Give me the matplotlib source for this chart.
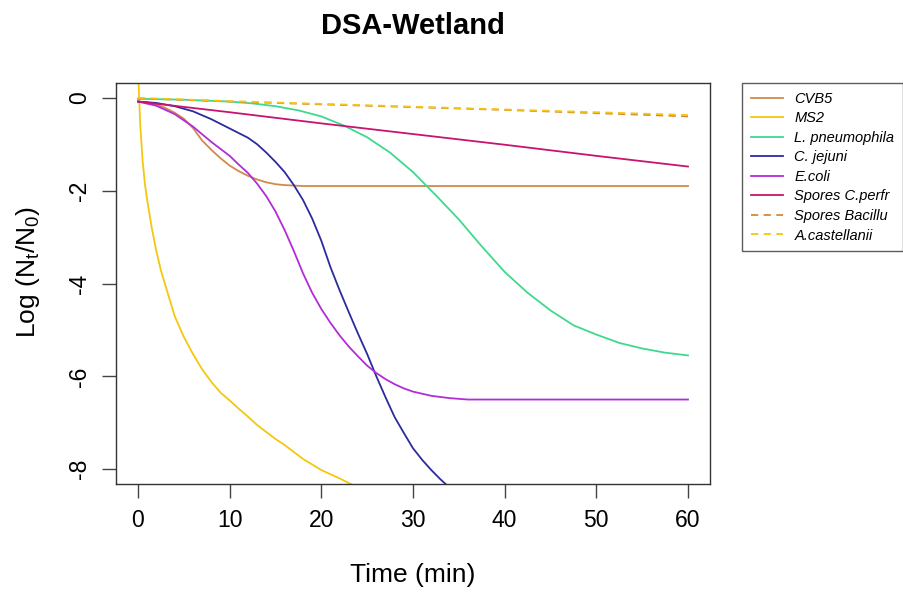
import numpy as np
import matplotlib.pyplot as plt

plt.rcParams['font.family'] = ['Liberation Sans', 'DejaVu Sans']
plt.rcParams['axes.unicode_minus'] = False
plt.rcParams['mathtext.fontset'] = 'custom'
plt.rcParams['mathtext.rm'] = 'Liberation Sans'

# time (min) and log reduction values
t_cvb5 = [0, 1, 2, 3, 4, 5, 6, 7, 8, 9, 10, 11, 12, 13, 14, 15, 16, 18, 20, 30, 40, 50, 60]
y_cvb5 = [-0.08, -0.1, -0.14, -0.22, -0.32, -0.45, -0.65, -0.92, -1.12, -1.3, -1.46, -1.58, -1.68,
          -1.76, -1.82, -1.86, -1.88, -1.9, -1.9, -1.9, -1.9, -1.9, -1.9]

t_ms2 = [0, 0.25, 0.5, 0.75, 1, 1.5, 2, 2.5, 3, 4, 5, 6, 7, 8, 9, 10, 11, 12, 13, 14, 15, 16, 18, 20, 22, 24]
y_ms2 = [0.6, -0.6, -1.35, -1.85, -2.2, -2.8, -3.3, -3.72, -4.05, -4.7, -5.15, -5.52, -5.85, -6.12,
         -6.35, -6.52, -6.7, -6.87, -7.05, -7.2, -7.35, -7.48, -7.78, -8.02, -8.2, -8.4]

t_legio = [0, 5, 10, 12.5, 15, 17.5, 20, 22.5, 25, 27.5, 30, 32.5, 35, 37.5, 40, 42.5, 45, 47.5, 50,
           52.5, 55, 57.5, 60]
y_legio = [-0.02, -0.04, -0.08, -0.12, -0.18, -0.27, -0.4, -0.6, -0.85, -1.18, -1.6, -2.1, -2.62, -3.2,
           -3.75, -4.2, -4.58, -4.9, -5.1, -5.28, -5.4, -5.49, -5.55]

t_camp = [0, 2, 4, 6, 8, 10, 11, 12, 13, 14, 15, 16, 17, 18, 19, 20, 21, 22, 23, 24, 25, 26, 27, 28,
          29, 30, 31, 32, 33, 34]
y_camp = [-0.08, -0.11, -0.18, -0.29, -0.46, -0.66, -0.76, -0.86, -1.0, -1.18, -1.38, -1.6, -1.88,
          -2.2, -2.6, -3.08, -3.65, -4.15, -4.62, -5.08, -5.52, -6.0, -6.45, -6.88, -7.22, -7.55, -7.8,
          -8.02, -8.22, -8.4]

t_ecoli = [0, 2, 4, 6, 8, 10, 11, 12, 13, 14, 15, 16, 17, 18, 19, 20, 21, 22, 23, 24, 25, 26, 27, 28,
           29, 30, 32, 34, 36, 40, 50, 60]
y_ecoli = [-0.08, -0.17, -0.35, -0.62, -0.95, -1.25, -1.44, -1.62, -1.85, -2.12, -2.45, -2.85, -3.3,
           -3.78, -4.2, -4.55, -4.85, -5.12, -5.36, -5.57, -5.77, -5.93, -6.06, -6.17, -6.26, -6.33,
           -6.42, -6.47, -6.5, -6.5, -6.5, -6.5]

t_lin = [0, 10, 20, 30, 40, 50, 60]
y_perfr = [-0.08, -0.31, -0.55, -0.78, -1.01, -1.25, -1.48]
y_bacil = [-0.01, -0.08, -0.14, -0.2, -0.26, -0.33, -0.4]
y_acanth = [0.0, -0.07, -0.13, -0.19, -0.25, -0.31, -0.37]

fig = plt.figure(figsize=(9.04, 6.07), dpi=100)
ax = fig.add_axes([116/904, 1-484/607, 594/904, 401/607])

lw = 1.3
ax.plot(t_cvb5, y_cvb5, color="#D08A4C", lw=lw, label="CVB5")
ax.plot(t_ms2, y_ms2, color="#F5C710", lw=lw, label="MS2")
ax.plot(t_legio, y_legio, color="#3FD98E", lw=lw, label="L. pneumophila")
ax.plot(t_camp, y_camp, color="#2B2B9E", lw=lw, label="C. jejuni")
ax.plot(t_ecoli, y_ecoli, color="#B22CD8", lw=lw, label="E.coli")
ax.plot(t_lin, y_perfr, color="#C8146E", lw=lw, label="Spores C.perfr")
ax.plot(t_lin, y_bacil, color="#D08A3A", lw=lw, ls=(0, (4, 3)), label="Spores Bacillu")
ax.plot(t_lin, y_acanth, color="#F5C710", lw=lw, ls=(0, (4, 3)), label="A.castellanii")

ax.set_xlim(-2.4, 62.4)
ax.set_ylim(-8.32, 0.32)
ax.set_xticks([0, 10, 20, 30, 40, 50, 60])
ax.set_yticks([0, -2, -4, -6, -8])
ax.tick_params(axis='both', labelsize=16.5, length=10, width=1, color="#444444")
ax.tick_params(axis='x', pad=8)
ax.tick_params(axis='y', pad=8)
for lab in ax.get_yticklabels():
    lab.set_rotation(90)
    lab.set_va('center')
for s in ax.spines.values():
    s.set_color("#333333")
    s.set_linewidth(1)

ax.set_xlabel("Time (min)", fontsize=19, labelpad=22)
ax.set_ylabel(r"Log (N$_\mathrm{t}$/N$_\mathrm{0}$)", fontsize=19)
ax.yaxis.set_label_coords(-0.124, 0.53)
fig.text(413/904, 1-26/607, "DSA-Wetland", fontsize=21, fontweight='bold', ha='center', va='center')

leg = fig.legend(loc='upper left', bbox_to_anchor=(742/904, 1-83/607), borderaxespad=0,
                 prop={'style': 'italic', 'size': 10.5}, frameon=True, fancybox=False,
                 handlelength=2.2, labelspacing=0.38, borderpad=0.6, edgecolor="#333333")
leg.get_frame().set_linewidth(1)

plt.savefig("out.png", dpi=100)
